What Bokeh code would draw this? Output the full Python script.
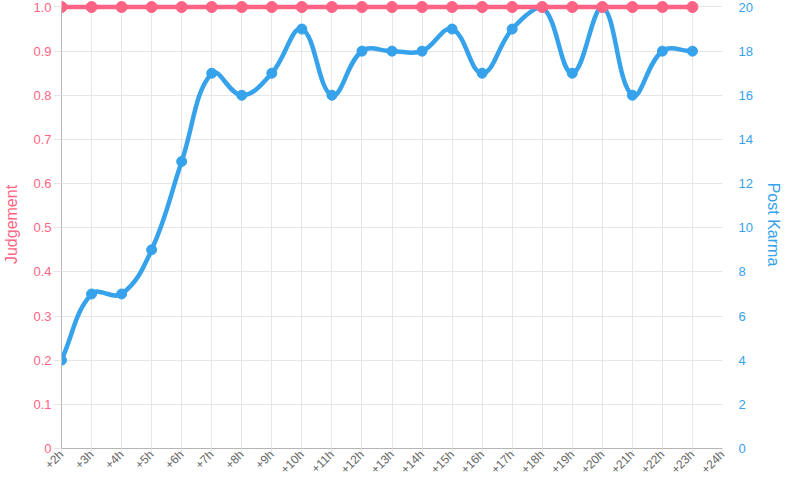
import math
from bokeh.plotting import figure
from bokeh.models import Range1d, LinearAxis, FixedTicker
from bokeh.embed import file_html
from bokeh.resources import INLINE

hours = ["+2h", "+3h", "+4h", "+5h", "+6h", "+7h", "+8h", "+9h", "+10h", "+11h", "+12h",
         "+13h", "+14h", "+15h", "+16h", "+17h", "+18h", "+19h", "+20h", "+21h", "+22h",
         "+23h", "+24h"]
judgement = [1.0, 1.0, 1.0, 1.0, 1.0, 1.0, 1.0, 1.0, 1.0, 1.0, 1.0,
             1.0, 1.0, 1.0, 1.0, 1.0, 1.0, 1.0, 1.0, 1.0, 1.0, 1.0]
karma = [4, 7, 7, 9, 13, 17, 16, 17, 19, 16, 18, 18, 18, 19, 17, 19, 20, 17, 20, 16, 18, 18]
judgement_ticks = [0, 0.1, 0.2, 0.3, 0.4, 0.5, 0.6, 0.7, 0.8, 0.9, 1.0]
judgement_labels = ["0", "0.1", "0.2", "0.3", "0.4", "0.5", "0.6", "0.7", "0.8", "0.9", "1.0"]
karma_ticks = [0, 2, 4, 6, 8, 10, 12, 14, 16, 18, 20]

PINK = "#FF6384"
BLUE = "#36A2EB"
GRID = "#e6e6e6"
ZERO = "#b5b5b5"
FONT = "Liberation Sans"

W, H = 784, 484
TOP_FRAC = 0.0145  # fraction of the frame kept above 1.0 so the top markers are not cut
ytop = 1.0 / (1.0 - TOP_FRAC)

p = figure(width=W, height=H, output_backend="svg", toolbar_location=None,
           x_range=Range1d(0, len(hours) - 1), y_range=Range1d(0, 1.0 * ytop),
           min_border_left=60, min_border_right=58, min_border_top=0, min_border_bottom=30)
p.extra_y_ranges = {"karma": Range1d(0, 20 * ytop)}
p.outline_line_color = None
p.background_fill_color = "white"
p.border_fill_color = "white"

# grids
p.xgrid.ticker = FixedTicker(ticks=list(range(len(hours))))
p.ygrid.ticker = FixedTicker(ticks=judgement_ticks)
for g in (p.xgrid, p.ygrid):
    g.grid_line_color = GRID
    g.grid_line_width = 1
try:
    p.xgrid.cross_bounds = (0, 1.0)
except Exception:
    pass

# left axis
ly = p.yaxis[0]
ly.ticker = FixedTicker(ticks=judgement_ticks)
ly.major_label_overrides = {t: l for t, l in zip(judgement_ticks, judgement_labels)}
ly.bounds = (0, 1.0)
ly.axis_line_color = ZERO
ly.major_tick_line_color = GRID
ly.major_tick_out = 8
ly.major_tick_in = 0
ly.minor_tick_line_color = None
ly.major_label_standoff = 2
ly.major_label_text_color = PINK
ly.major_label_text_font = FONT
ly.major_label_text_font_size = "13px"
ly.axis_label = "Judgement"
ly.axis_label_text_color = PINK
ly.axis_label_text_font = FONT
ly.axis_label_text_font_size = "16px"
ly.axis_label_text_font_style = "normal"
ly.axis_label_standoff = 10

# bottom axis
bx = p.xaxis[0]
bx.ticker = FixedTicker(ticks=list(range(len(hours))))
bx.major_label_overrides = {i: h for i, h in enumerate(hours)}
bx.major_label_orientation = math.pi / 4
bx.axis_line_color = ZERO
bx.major_tick_line_color = GRID
bx.major_tick_out = 4
bx.major_tick_in = 0
bx.minor_tick_line_color = None
bx.major_label_standoff = 0
bx.major_label_text_color = "#666666"
bx.major_label_text_font = FONT
bx.major_label_text_font_size = "12px"

# right axis
ry = LinearAxis(y_range_name="karma", ticker=FixedTicker(ticks=karma_ticks))
ry.bounds = (0, 20)
ry.axis_line_color = None
ry.major_tick_line_color = None
ry.minor_tick_line_color = None
ry.major_label_standoff = 10
ry.major_label_text_color = BLUE
ry.major_label_text_font = FONT
ry.major_label_text_font_size = "13px"
ry.axis_label = "Post Karma"
ry.axis_label_text_color = BLUE
ry.axis_label_text_font = FONT
ry.axis_label_text_font_size = "16px"
ry.axis_label_text_font_style = "normal"
ry.axis_label_standoff = 9
p.add_layout(ry, "right")

# Chart.js-style spline (tension 0.4) computed in reference pixel space
xs = list(range(len(karma)))
SX = 675 / 22.0
SY = 459 / 20.0
T = 0.4
cps = []
n = len(karma)


def cap(pt):
    x = min(max(pt[0] / SX, 0), 22)
    y = min(max(pt[1] / SY, 0), 20)
    return x, y


for i in range(n):
    cx, cy = xs[i] * SX, karma[i] * SY
    px, py = (xs[i - 1] * SX, karma[i - 1] * SY) if i > 0 else (cx, cy)
    nx, ny = (xs[i + 1] * SX, karma[i + 1] * SY) if i < n - 1 else (cx, cy)
    d01 = math.hypot(cx - px, cy - py)
    d12 = math.hypot(nx - cx, ny - cy)
    tot = d01 + d12
    s01 = d01 / tot if tot else 0
    s12 = d12 / tot if tot else 0
    fa, fb = T * s01, T * s12
    prev_cp = (cx - fa * (nx - px), cy - fa * (ny - py))
    next_cp = (cx + fb * (nx - px), cy + fb * (ny - py))
    cps.append((cap(prev_cp), cap(next_cp)))

x0 = xs[:-1]; y0 = karma[:-1]; x1 = xs[1:]; y1 = karma[1:]
cx0 = [cps[i][1][0] for i in range(n - 1)]
cy0 = [cps[i][1][1] for i in range(n - 1)]
cx1 = [cps[i + 1][0][0] for i in range(n - 1)]
cy1 = [cps[i + 1][0][1] for i in range(n - 1)]
p.bezier(x0=x0, y0=y0, x1=x1, y1=y1, cx0=cx0, cy0=cy0, cx1=cx1, cy1=cy1,
         line_color=BLUE, line_width=4.5, line_cap="round", y_range_name="karma")
p.scatter(xs, karma, size=10, fill_color=BLUE, line_color=BLUE, y_range_name="karma")

# judgement line on top
jx = list(range(len(judgement)))
p.line(jx, judgement, line_color=PINK, line_width=4.5)
p.scatter(jx, judgement, size=11, fill_color=PINK, line_color=PINK)

open("out.html", "w").write(file_html(p, INLINE))
